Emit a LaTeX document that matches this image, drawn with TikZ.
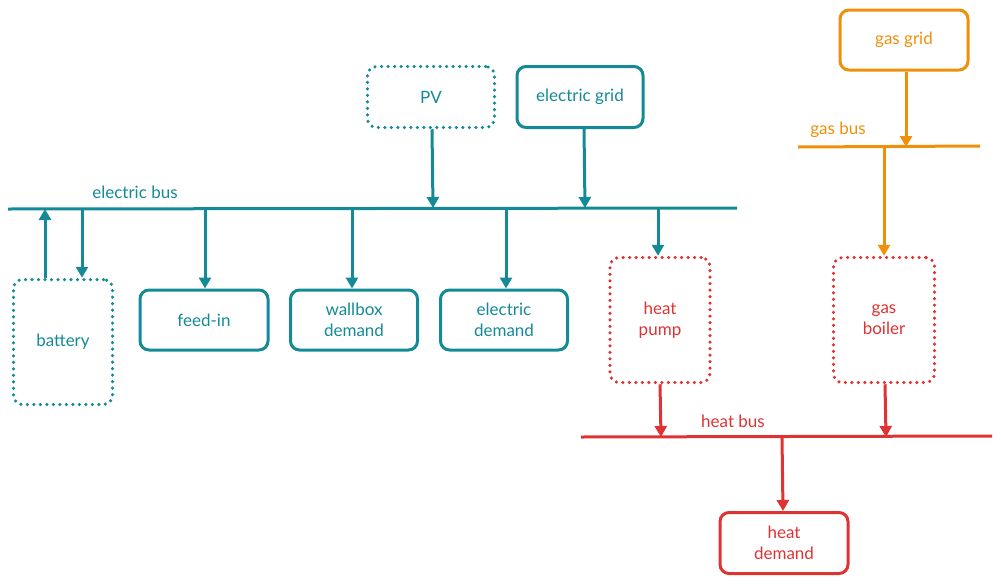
\documentclass[tikz,border=0pt]{standalone}
\usepackage{fontspec}
\setmainfont{Lato}
\usetikzlibrary{arrows.meta}
\definecolor{teal}{HTML}{138A96}
\definecolor{orng}{HTML}{F0900A}
\definecolor{rd}{HTML}{E03232}
\begin{document}
\begin{tikzpicture}[x=1pt,y=-1pt,
 box/.style={draw,rounded corners=9pt,line width=3pt,align=center,font=\fontsize{17}{21}\selectfont,inner sep=0pt},
 dotbox/.style={box,dash pattern=on 0pt off 6.5pt,line cap=round,line width=3.5pt},
 bus/.style={line width=3pt},
 arr/.style={line width=3pt,-{Triangle[length=11pt,width=12pt]}},
 lbl/.style={font=\fontsize{17}{21}\selectfont}]
\useasboundingbox (0,0) rectangle (1001,584);
% electric
\begin{scope}[teal,text=teal]
\node[dotbox,minimum width=127pt,minimum height=61pt] (pv) at (431,97) {PV};
\node[box,minimum width=126pt,minimum height=61pt] (grid) at (580,97) {electric grid};
\node[dotbox,minimum width=99pt,minimum height=125pt] (bat) at (63,342) {battery};
\node[box,minimum width=128pt,minimum height=60pt] (feed) at (204,320) {feed-in};
\node[box,minimum width=127pt,minimum height=60pt] (wall) at (354,320) {wallbox\\demand};
\node[box,minimum width=127pt,minimum height=60pt] (edem) at (504,320) {electric\\demand};
\coordinate (eb1) at (8,209); \coordinate (eb2) at (737,208);
\draw[bus] (eb1) -- (eb2);
\node[lbl] (ebl) at (135,192) {electric bus};
\draw[arr] (pv.south -| 432,0) -- (433,208);
\draw[arr] (grid.south -| 584,0) -- (585,208);
\draw[arr] (bat.north -| 45,0) -- (45,209);
\draw[arr] (82,209) -- (bat.north -| 82,0);
\draw[arr] (205,209) -- (feed.north -| 205,0);
\draw[arr] (352,209) -- (wall.north -| 352,0);
\draw[arr] (506,209) -- (edem.north -| 506,0);
\end{scope}
% gas
\begin{scope}[orng,text=orng]
\node[box,minimum width=128pt,minimum height=60pt] (gg) at (904,40) {gas grid};
\draw[bus] (798,147) -- (980,146);
\node[lbl] (gbl) at (838,130) {gas bus};
\draw[arr] (gg.south -| 906,0) -- (906,147);
\end{scope}
% heat
\begin{scope}[rd,text=rd]
\node[dotbox,minimum width=100pt,minimum height=125pt] (hp) at (660,320) {heat\\pump};
\node[dotbox,minimum width=101pt,minimum height=125pt] (gb) at (884,320) {gas\\boiler};
\node[box,minimum width=128pt,minimum height=61pt] (hd) at (784,543) {heat\\demand};
\draw[bus] (581,437) -- (992,436);
\node[lbl] (hbl) at (733,421) {heat bus};
\draw[arr] (hp.south -| 660,0) -- (661,437);
\draw[arr] (gb.south -| 885,0) -- (886,437);
\draw[arr] (782,437) -- (hd.north -| 783,0);
\end{scope}
\draw[arr,teal] (658,208) -- (hp.north -| 658,0);
\draw[arr,orng] (884,147) -- (gb.north -| 884,0);
\end{tikzpicture}
\end{document}
